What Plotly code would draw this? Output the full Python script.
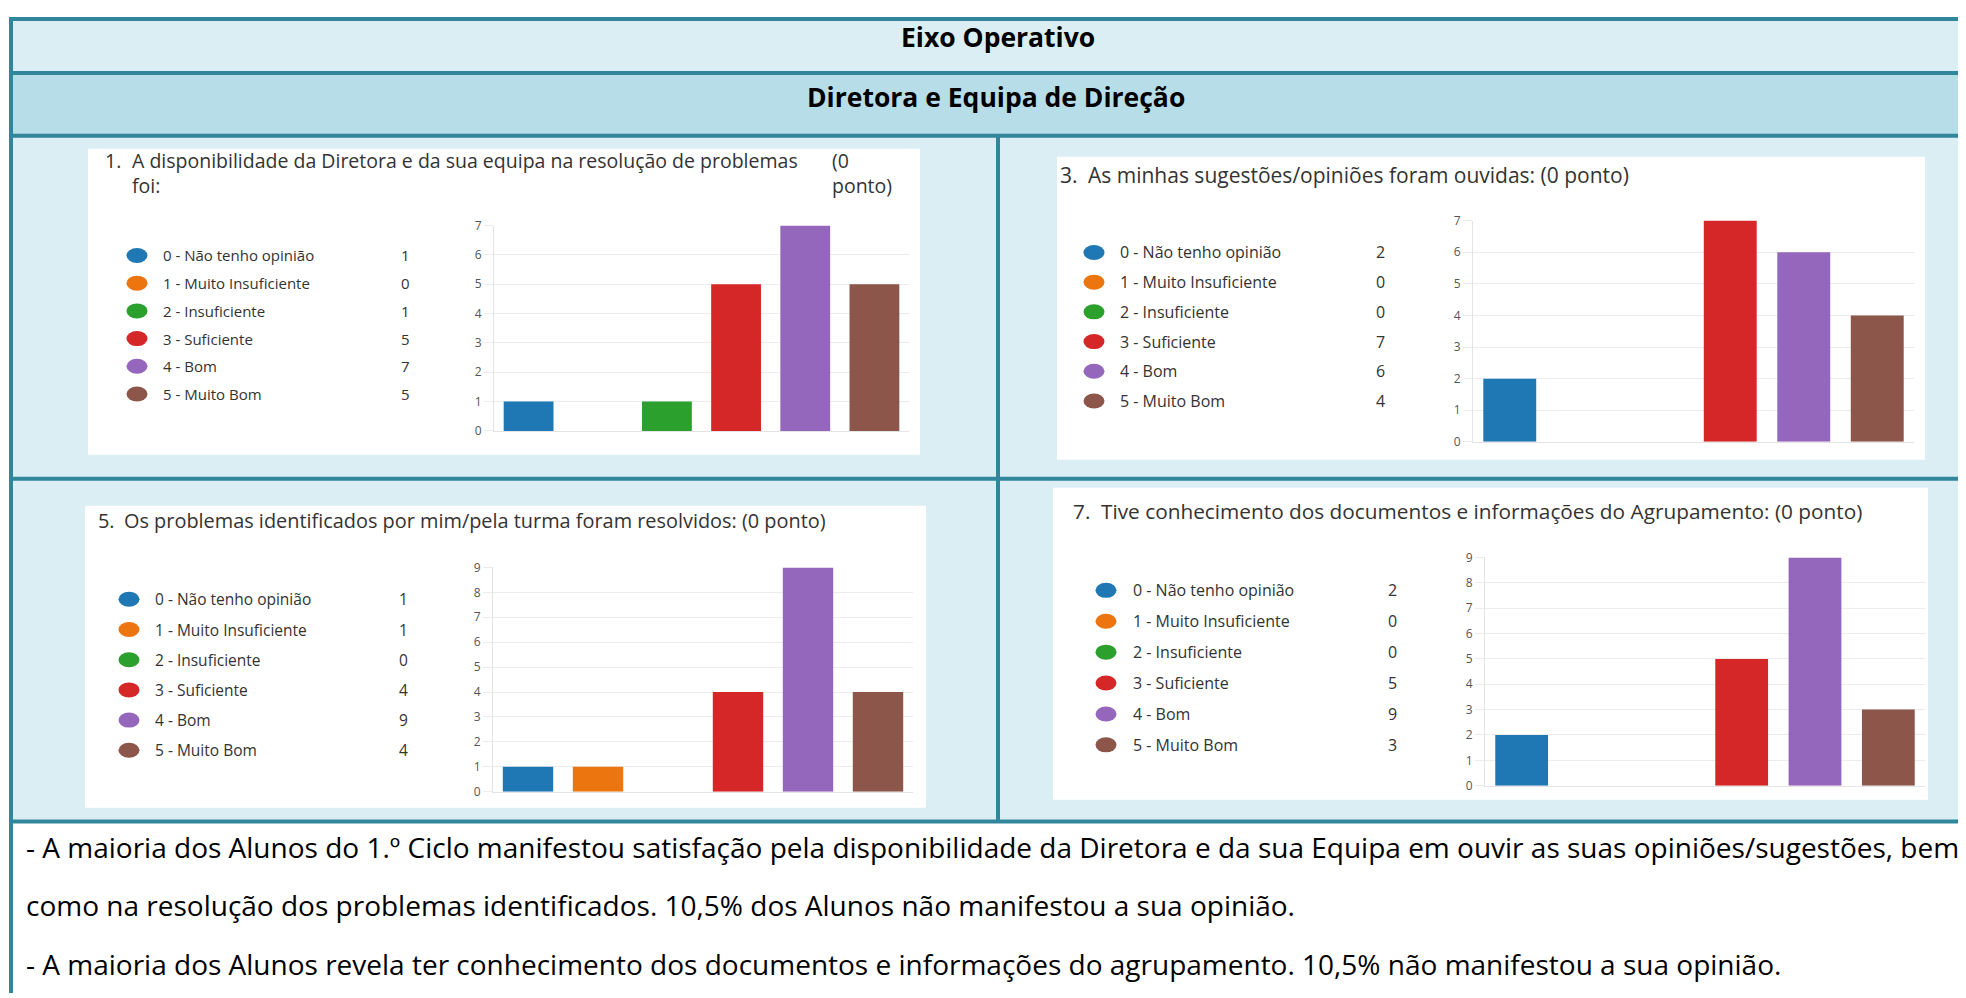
import plotly.graph_objects as go

W, H = 1966, 998
LEFT = 8      # figure left edge on the page
P = 18        # figure top edge on the page
K = 0.986     # vertical scale seen in the photograph
FIG_W = W - LEFT
FIG_H = 985
Y0 = P * K    # first photographed row the figure can reach

categorias = [
    "0 - Não tenho opinião",
    "1 - Muito Insuficiente",
    "2 - Insuficiente",
    "3 - Suficiente",
    "4 - Bom",
    "5 - Muito Bom",
]
cores = ["#1f77b4", "#ec7510", "#2ca02c", "#d62728", "#9467bd", "#8c564b"]

q1_valores = [1, 0, 1, 5, 7, 5]
q3_valores = [2, 0, 0, 7, 6, 4]
q5_valores = [1, 1, 0, 4, 9, 4]
q7_valores = [2, 0, 0, 5, 9, 3]

cabecalho = "Eixo Operativo"
subcabecalho = "Diretora e Equipa de Direção"
conclusoes = [
    "- A maioria dos Alunos do 1.º Ciclo manifestou satisfação pela disponibilidade da Diretora e da sua Equipa em ouvir as suas opiniões/sugestões, bem",
    "como na resolução dos problemas identificados. 10,5% dos Alunos não manifestou a sua opinião.",
    "- A maioria dos Alunos revela ter conhecimento dos documentos e informações do agrupamento. 10,5% não manifestou a sua opinião.",
]

BORDA = "#31869b"
AZUL_CLARO = "#daeef3"
AZUL_MEDIO = "#b7dde8"
TEXTO = "#333333"
FONTE = "Open Sans"


def px(x):
    return (x - LEFT) / FIG_W


def py(y):
    return 1 - (y / K - P) / FIG_H


def rect(x0, y0, x1, y1, color):
    return dict(
        type="rect", xref="paper", yref="paper",
        x0=px(x0), x1=px(x1), y0=py(y1), y1=py(y0),
        fillcolor=color, line_width=0, layer="below",
    )


# each panel: values, y max, white box, plot area, legend (dot x, first row y, step, label x, count x),
# titles (text, x, y) and font sizes
paineis = [
    dict(valores=q1_valores, ymax=7, caixa=(88, 150, 920, 457), area=(494, 227, 909, 433),
         legenda=(137, 257, 27.8, 161, 405), fonte_titulo=19.5, fonte_legenda=15,
         titulos=[("1.", 103, 162),
                  ("A disponibilidade da Diretora e da sua equipa na resolução de problemas<br>foi:", 130, 174),
                  ("(0<br>ponto)", 830, 174)]),
    dict(valores=q3_valores, ymax=7, caixa=(1057, 158, 1925, 462), area=(1473, 222, 1914, 444),
         legenda=(1094, 254, 29.8, 1118, 1380), fonte_titulo=21, fonte_legenda=16,
         titulos=[("3.", 1058, 176), ("As minhas sugestões/opiniões foram ouvidas: (0 ponto)", 1086, 176)]),
    dict(valores=q5_valores, ymax=9, caixa=(85, 508, 926, 811), area=(493, 570, 913, 795),
         legenda=(129, 602, 30.3, 153, 403), fonte_titulo=19.9, fonte_legenda=15.5,
         titulos=[("5.", 96, 523), ("Os problemas identificados por mim/pela turma foram resolvidos: (0 ponto)", 122, 523)]),
    dict(valores=q7_valores, ymax=9, caixa=(1053, 490, 1928, 803), area=(1485, 560, 1925, 789),
         legenda=(1106, 593, 31, 1131, 1392), fonte_titulo=20.8, fonte_legenda=16,
         titulos=[("7.", 1071, 513), ("Tive conhecimento dos documentos e informações do Agrupamento: (0 ponto)", 1099, 513)]),
]

shapes = [
    rect(9, Y0, W + 10, H + 10, BORDA),
    rect(13, Y0 + 4, W + 10, 72, AZUL_CLARO),
    rect(13, 76, W + 10, 135, AZUL_MEDIO),
    rect(13, 139, 996, 479, AZUL_CLARO),
    rect(1000, 139, W + 10, 479, AZUL_CLARO),
    rect(13, 483, 996, 823, AZUL_CLARO),
    rect(1000, 483, W + 10, 823, AZUL_CLARO),
    rect(13, 827, W + 10, H + 10, "white"),
]

annotations = [
    dict(text=f"<b>{cabecalho}</b>", x=px(998), y=py(38), xref="paper", yref="paper",
         showarrow=False, xanchor="center", yanchor="middle",
         font=dict(family=FONTE, size=26.5, color="black")),
    dict(text=f"<b>{subcabecalho}</b>", x=px(996), y=py(98), xref="paper", yref="paper",
         showarrow=False, xanchor="center", yanchor="middle",
         font=dict(family=FONTE, size=26.5, color="black")),
]
for linha, yc in zip(conclusoes, [850, 909, 968]):
    annotations.append(dict(text=linha, x=px(24), y=py(yc), xref="paper", yref="paper",
                            showarrow=False, xanchor="left", yanchor="middle",
                            font=dict(family=FONTE, size=28, color="black")))

fig = go.Figure()
layout_axes = {}

for i, p in enumerate(paineis):
    n = i + 1
    m = i + 5
    cx0, cy0, cx1, cy1 = p["caixa"]
    shapes.append(rect(cx0, cy0, cx1, cy1, "white"))

    for texto, tx, ty in p["titulos"]:
        annotations.append(dict(text=texto, x=px(tx), y=py(ty), xref="paper", yref="paper",
                                showarrow=False, xanchor="left", yanchor="middle", align="left",
                                font=dict(family=FONTE, size=p["fonte_titulo"], color=TEXTO)))

    # bar chart
    ax0, ay0, ax1, ay1 = p["area"]
    fig.add_trace(go.Bar(
        x=categorias, y=p["valores"], marker=dict(color=cores, line_width=0),
        xaxis=f"x{n}", yaxis=f"y{n}", showlegend=False, hoverinfo="x+y",
    ))
    layout_axes[f"xaxis{n}"] = dict(
        domain=[px(ax0), px(ax1)], anchor=f"y{n}", range=[-0.5, 5.5],
        showticklabels=False, ticks="", showgrid=False, zeroline=False,
        showline=True, linecolor="#e4e4e4", linewidth=1, fixedrange=True,
    )
    layout_axes[f"yaxis{n}"] = dict(
        domain=[py(ay1), py(ay0)], anchor=f"x{n}", range=[0, p["ymax"]],
        dtick=1, tick0=0, showgrid=True, gridcolor="#ececec", gridwidth=1,
        zeroline=False, showline=True, linecolor="#e4e4e4", linewidth=1,
        ticks="outside", ticklen=9, tickcolor="#ececec",
        tickfont=dict(family=FONTE, size=12, color="#555555"), fixedrange=True,
    )

    # legend column: dots, labels and counts
    dx, ly0, passo, lab_x, cnt_x = p["legenda"]
    fig.add_trace(go.Scatter(
        x=[0] * len(categorias), y=list(range(len(categorias))), mode="markers",
        marker=dict(opacity=0), xaxis=f"x{m}", yaxis=f"y{m}",
        showlegend=False, hoverinfo="skip",
    ))
    layout_axes[f"xaxis{m}"] = dict(domain=[px(dx - 30), px(dx + 30)], anchor=f"y{m}",
                                    range=[-1, 1], visible=False, fixedrange=True)
    layout_axes[f"yaxis{m}"] = dict(domain=[py(ly0 + 5.5 * passo), py(ly0 - 0.5 * passo)],
                                    anchor=f"x{m}", range=[5.5, -0.5], visible=False, fixedrange=True)
    fl = p["fonte_legenda"]
    for k, (cat, cor, val) in enumerate(zip(categorias, cores, p["valores"])):
        shapes.append(dict(
            type="circle", xref=f"x{m}", yref=f"y{m}",
            xsizemode="pixel", xanchor=0, x0=-10.5, x1=10.5,
            ysizemode="pixel", yanchor=k, y0=-7.5, y1=7.5,
            fillcolor=cor, line_width=0,
        ))
        annotations.append(dict(text=cat, x=0, y=k, xref=f"x{m}", yref=f"y{m}",
                                xshift=lab_x - dx, showarrow=False, xanchor="left", yanchor="middle",
                                font=dict(family=FONTE, size=fl, color=TEXTO)))
        annotations.append(dict(text=str(val), x=0, y=k, xref=f"x{m}", yref=f"y{m}",
                                xshift=cnt_x - dx, showarrow=False, xanchor="center", yanchor="middle",
                                font=dict(family=FONTE, size=fl, color=TEXTO)))

fig.update_layout(
    width=FIG_W, height=FIG_H,
    margin=dict(l=0, r=0, t=0, b=0),
    paper_bgcolor="white", plot_bgcolor="rgba(0,0,0,0)",
    bargap=0.28, showlegend=False,
    shapes=shapes, annotations=annotations,
    **layout_axes,
)

fig.write_html("out.html")
